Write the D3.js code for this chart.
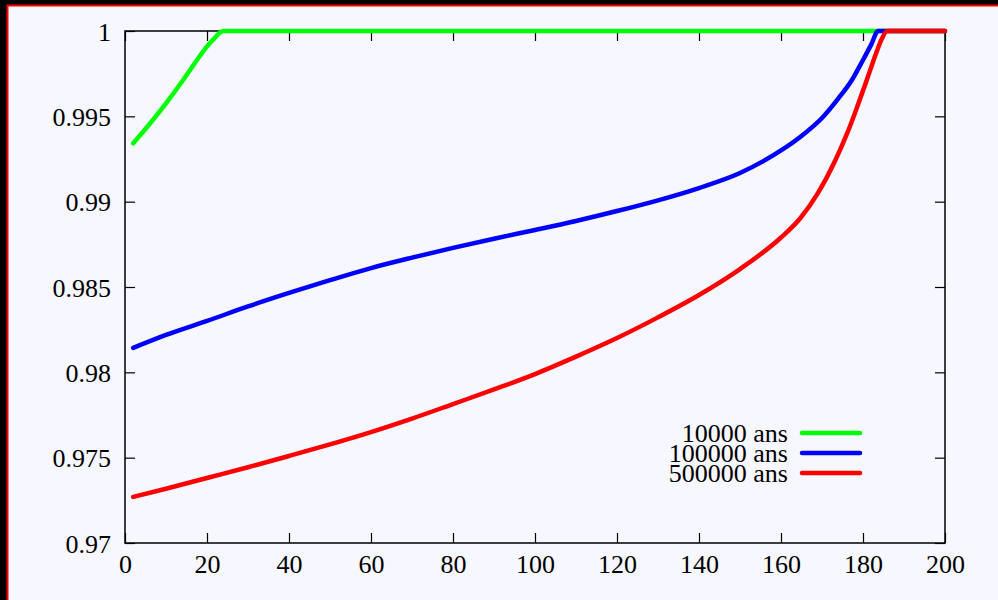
<!DOCTYPE html>
<html>
<head>
<meta charset="utf-8">
<script src="https://cdn.jsdelivr.net/npm/d3@7"></script>
<style>
  html, body { margin: 0; padding: 0; background: #000; }
  svg { display: block; }
</style>
</head>
<body>
<script>
// Time-step values (x) and the three curves, one per duration
const xTicks = [0, 20, 40, 60, 80, 100, 120, 140, 160, 180, 200];
const yTicks = [0.97, 0.975, 0.98, 0.985, 0.99, 0.995, 1];
const yTickLabels = ["0.97", "0.975", "0.98", "0.985", "0.99", "0.995", "1"];

const seriesNames = ["10000 ans", "100000 ans", "500000 ans"];
const seriesColors = ["#00ff00", "#0000ff", "#ff0000"];

const x10k = [2, 6, 10, 14, 18, 20, 22, 23, 24, 40, 80, 120, 160, 200];
const y10k = [0.99342, 0.99455, 0.99576, 0.99707, 0.99845, 0.99910, 0.99962, 0.99988, 1, 1, 1, 1, 1, 1];

const x100k = [2, 10, 20, 30, 40, 50, 60, 70, 80, 90, 100, 110, 120, 130, 140, 150, 160, 165, 170, 174, 177.3, 180, 182, 183.7, 200];
const y100k = [0.98143, 0.98219, 0.98301, 0.98386, 0.98465, 0.98540, 0.98611, 0.98672, 0.98729, 0.98783, 0.98834, 0.98887, 0.98945, 0.99008, 0.99080, 0.99168, 0.99300, 0.99385, 0.99490, 0.99605, 0.99713, 0.99830, 0.99920, 1, 1];

const x500k = [2, 10, 20, 30, 40, 50, 60, 70, 80, 90, 100, 110, 120, 130, 140, 150, 160, 164.6, 169, 173.2, 176.3, 178.8, 181, 183.2, 184.6, 185.9, 200];
const y500k = [0.97270, 0.97318, 0.97381, 0.97444, 0.97510, 0.97578, 0.97650, 0.97729, 0.97814, 0.97900, 0.97990, 0.98092, 0.98201, 0.98322, 0.98453, 0.98605, 0.98790, 0.98900, 0.99050, 0.99240, 0.99410, 0.99570, 0.99718, 0.99870, 0.99955, 1, 1];

const seriesX = [x10k, x100k, x500k];
const seriesY = [y10k, y100k, y500k];

const W = 998, H = 600;
const margin = { left: 125, right: 53, top: 31, bottom: 57 };
const FONT = '"Liberation Serif", serif';

const svg = d3.select("body").append("svg")
  .attr("width", W).attr("height", H);

// page frame: dark band with a red rule on the left and top
svg.append("rect").attr("x", 0).attr("y", 0).attr("width", W).attr("height", H).attr("fill", "#000");
svg.append("rect").attr("x", 6.5).attr("y", 4.5).attr("width", W).attr("height", H).attr("fill", "#ff0000");
svg.append("rect").attr("x", 8.5).attr("y", 6.5).attr("width", W).attr("height", H).attr("fill", "#f6f7ff");

const xScale = d3.scaleLinear().domain([0, 200]).range([margin.left, W - margin.right]);
const yScale = d3.scaleLinear().domain([0.97, 1]).range([H - margin.bottom, margin.top]);

const tickLen = 10;
const g = svg.append("g");

const axisStyle = sel => {
  sel.attr("font-family", FONT).attr("font-size", 26);
  sel.select(".domain").remove();
  sel.selectAll(".tick line").attr("stroke", "#000").attr("stroke-width", 1.2);
  sel.selectAll(".tick text").style("font-family", FONT).style("font-size", "26px").attr("fill", "#000");
};

// inward ticks on all four sides
const bottomAxis = g.append("g").attr("transform", `translate(0,${yScale(0.97)})`)
  .call(d3.axisBottom(xScale).tickValues(xTicks).tickSizeInner(-tickLen).tickFormat(d3.format("d")))
  .call(axisStyle);
bottomAxis.selectAll(".tick text").attr("y", 30).attr("dy", 0);

g.append("g").attr("transform", `translate(0,${yScale(1)})`)
  .call(d3.axisTop(xScale).tickValues(xTicks).tickSizeInner(-tickLen).tickFormat(""))
  .call(axisStyle);

const leftAxis = g.append("g").attr("transform", `translate(${xScale(0)},0)`)
  .call(d3.axisLeft(yScale).tickValues(yTicks).tickSizeInner(-tickLen)
    .tickFormat((d, i) => yTickLabels[i]))
  .call(axisStyle);
leftAxis.selectAll(".tick text").attr("x", -14).attr("dy", 9);

g.append("g").attr("transform", `translate(${xScale(200)},0)`)
  .call(d3.axisRight(yScale).tickValues(yTicks).tickSizeInner(-tickLen).tickFormat(""))
  .call(axisStyle);

// plot border
g.append("rect")
  .attr("x", xScale(0)).attr("y", yScale(1))
  .attr("width", xScale(200) - xScale(0)).attr("height", yScale(0.97) - yScale(1))
  .attr("fill", "none").attr("stroke", "#000").attr("stroke-width", 1.5);

// curves
const line = d3.line().x(d => xScale(d[0])).y(d => yScale(d[1])).curve(d3.curveMonotoneX);
seriesX.forEach((xs, i) => {
  const pts = xs.map((v, j) => [v, seriesY[i][j]]);
  svg.append("path").datum(pts)
    .attr("d", line)
    .attr("fill", "none")
    .attr("stroke", seriesColors[i])
    .attr("stroke-width", 4.5)
    .attr("stroke-linejoin", "round")
    .attr("stroke-linecap", "round");
});

// legend
const legend = svg.append("g");
seriesNames.forEach((name, i) => {
  const ly = 433 + i * 20;
  legend.append("text")
    .attr("x", 788).attr("y", ly + 9)
    .attr("text-anchor", "end")
    .style("font-family", FONT)
    .style("font-size", "26px")
    .attr("fill", "#000")
    .text(name);
  legend.append("line")
    .attr("x1", 802).attr("x2", 860)
    .attr("y1", ly).attr("y2", ly)
    .attr("stroke", seriesColors[i]).attr("stroke-width", 4.5)
    .attr("stroke-linecap", "round");
});
</script>
</body>
</html>
